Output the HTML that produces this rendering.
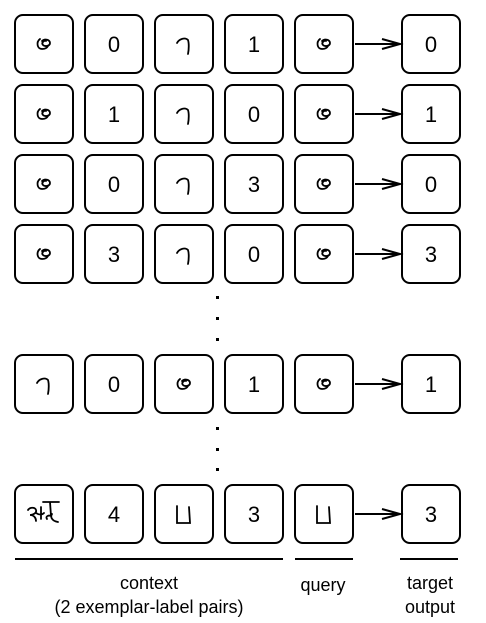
<!DOCTYPE html>
<html><head><meta charset="utf-8"><style>
html,body{margin:0;padding:0;background:#fff;}
svg{display:block;}
text{font-family:"Liberation Sans",sans-serif;fill:#000;}
.d{font-size:22px;}
</style></head><body>
<svg width="486" height="623" viewBox="0 0 486 623" xmlns="http://www.w3.org/2000/svg">
<defs>
<rect id="b" x="0" y="0" width="58" height="58" rx="8" fill="#fff" stroke="#000" stroke-width="2"/>
<path id="curl" d="M27,26 c3,-3 8,-1 8,2 c0,3 -5,4 -7,2 c-2,-2 1,-5 3,-4 M25,24 c-4,3 -3,10 2,10 c3,0 5,-1 6,-3" fill="none" stroke="#000" stroke-width="1.8" stroke-linecap="round"/>
<path id="hook" d="M22,28 c2,-4 8,-6 11,-3 c1,3 1,9 0,14" fill="none" stroke="#000" stroke-width="1.8" stroke-linecap="round"/>
<path id="u" d="M22,21 l0,17 l13,0 l-1,-16" fill="none" stroke="#000" stroke-width="1.8" stroke-linecap="round"/>
<path id="guj" d="M13,25 c2,-3 7,-3 8,0 c1,3 -3,5 -6,5 c4,0 6,3 6,6 M21,28 c3,2 6,2 8,0 M26,22 l0,12 M28,17 l16,0 M35,17 l1,14 c-2,-1 -6,0 -4,3 M37,29 c-2,3 0,7 6,8" fill="none" stroke="#000" stroke-width="1.8" stroke-linecap="round"/>
<g id="arr"><line x1="355" y1="0" x2="400" y2="0" stroke="#000" stroke-width="2"/><path d="M382,-5 L400,0 L382,5" fill="none" stroke="#000" stroke-width="2"/></g>
</defs>
<g class="d" text-anchor="middle">
<g transform="translate(15,15)"><use href="#b"/><use href="#curl"/></g>
<g transform="translate(85,15)"><use href="#b"/><text x="29" y="37" font-size="22">0</text></g>
<g transform="translate(155,15)"><use href="#b"/><use href="#hook"/></g>
<g transform="translate(225,15)"><use href="#b"/><text x="29" y="37" font-size="22">1</text></g>
<g transform="translate(295,15)"><use href="#b"/><use href="#curl"/></g>
<g transform="translate(402,15)"><use href="#b"/><text x="29" y="37" font-size="22">0</text></g>
<use href="#arr" transform="translate(0,44)"/>
<g transform="translate(15,85)"><use href="#b"/><use href="#curl"/></g>
<g transform="translate(85,85)"><use href="#b"/><text x="29" y="37" font-size="22">1</text></g>
<g transform="translate(155,85)"><use href="#b"/><use href="#hook"/></g>
<g transform="translate(225,85)"><use href="#b"/><text x="29" y="37" font-size="22">0</text></g>
<g transform="translate(295,85)"><use href="#b"/><use href="#curl"/></g>
<g transform="translate(402,85)"><use href="#b"/><text x="29" y="37" font-size="22">1</text></g>
<use href="#arr" transform="translate(0,114)"/>
<g transform="translate(15,155)"><use href="#b"/><use href="#curl"/></g>
<g transform="translate(85,155)"><use href="#b"/><text x="29" y="37" font-size="22">0</text></g>
<g transform="translate(155,155)"><use href="#b"/><use href="#hook"/></g>
<g transform="translate(225,155)"><use href="#b"/><text x="29" y="37" font-size="22">3</text></g>
<g transform="translate(295,155)"><use href="#b"/><use href="#curl"/></g>
<g transform="translate(402,155)"><use href="#b"/><text x="29" y="37" font-size="22">0</text></g>
<use href="#arr" transform="translate(0,184)"/>
<g transform="translate(15,225)"><use href="#b"/><use href="#curl"/></g>
<g transform="translate(85,225)"><use href="#b"/><text x="29" y="37" font-size="22">3</text></g>
<g transform="translate(155,225)"><use href="#b"/><use href="#hook"/></g>
<g transform="translate(225,225)"><use href="#b"/><text x="29" y="37" font-size="22">0</text></g>
<g transform="translate(295,225)"><use href="#b"/><use href="#curl"/></g>
<g transform="translate(402,225)"><use href="#b"/><text x="29" y="37" font-size="22">3</text></g>
<use href="#arr" transform="translate(0,254)"/>
<g transform="translate(15,355)"><use href="#b"/><use href="#hook"/></g>
<g transform="translate(85,355)"><use href="#b"/><text x="29" y="37" font-size="22">0</text></g>
<g transform="translate(155,355)"><use href="#b"/><use href="#curl"/></g>
<g transform="translate(225,355)"><use href="#b"/><text x="29" y="37" font-size="22">1</text></g>
<g transform="translate(295,355)"><use href="#b"/><use href="#curl"/></g>
<g transform="translate(402,355)"><use href="#b"/><text x="29" y="37" font-size="22">1</text></g>
<use href="#arr" transform="translate(0,384)"/>
<g transform="translate(15,485)"><use href="#b"/><use href="#guj"/></g>
<g transform="translate(85,485)"><use href="#b"/><text x="29" y="37" font-size="22">4</text></g>
<g transform="translate(155,485)"><use href="#b"/><use href="#u"/></g>
<g transform="translate(225,485)"><use href="#b"/><text x="29" y="37" font-size="22">3</text></g>
<g transform="translate(295,485)"><use href="#b"/><use href="#u"/></g>
<g transform="translate(402,485)"><use href="#b"/><text x="29" y="37" font-size="22">3</text></g>
<use href="#arr" transform="translate(0,514)"/>
</g>
<g fill="#000">
<rect x="216" y="296" width="3" height="3"/><rect x="216" y="317" width="3" height="3"/><rect x="216" y="338" width="3" height="3"/>
<rect x="216" y="427" width="3" height="3"/><rect x="216" y="448" width="3" height="3"/><rect x="216" y="468" width="3" height="3"/>
</g>
<g stroke="#000" stroke-width="2">
<line x1="15" y1="559" x2="283" y2="559"/>
<line x1="295" y1="559" x2="353" y2="559"/>
<line x1="400" y1="559" x2="458" y2="559"/>
</g>
<g text-anchor="middle">
<text x="149" y="589" font-size="18">context</text>
<text x="149" y="613" font-size="18">(2 exemplar-label pairs)</text>
<text x="323" y="591" font-size="18">query</text>
<text x="430" y="589" font-size="18">target</text>
<text x="430" y="613" font-size="18">output</text>
</g>
</svg>
</body></html>
